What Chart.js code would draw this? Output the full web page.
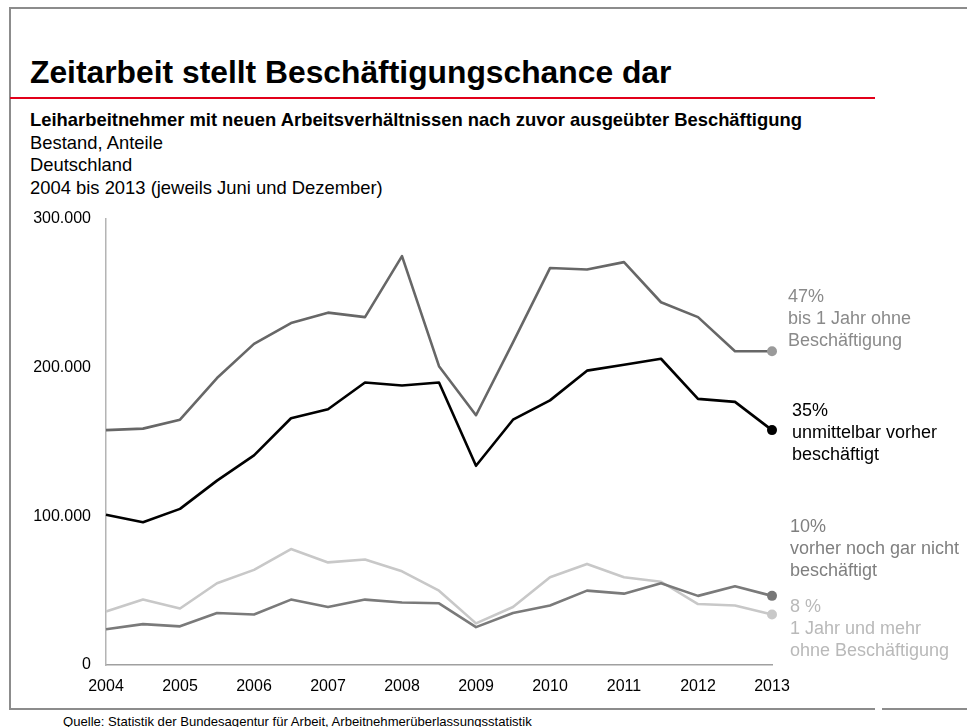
<!DOCTYPE html>
<html>
<head>
<meta charset="utf-8">
<script src="https://cdn.jsdelivr.net/npm/chart.js@4"></script>
<style>
  body { margin: 0; background: #fff; font-family: "Liberation Sans", Arial, sans-serif; }
  #wrap { position: relative; width: 967px; height: 727px; overflow: hidden; }
  .abs { position: absolute; white-space: nowrap; }
  #title { left: 30px; top: 56px; font-size: 31.8px; line-height: 32px; font-weight: bold; color: #000; }
  #sub { left: 30px; top: 109px; font-size: 18.4px; line-height: 22.5px; color: #000; }
  #src { left: 63px; top: 715px; font-size: 13.1px; line-height: 13px; color: #000; }
  canvas { position: absolute; left: 0; top: 0; }
</style>
</head>
<body>
<div id="wrap">
  <div class="abs" style="left:10px;top:7px;width:957px;height:2px;background:#8c8c8c"></div>
  <div class="abs" style="left:9px;top:7px;width:2px;height:703px;background:#8c8c8c"></div>
  <div class="abs" style="left:9px;top:708px;width:866px;height:2px;background:#8c8c8c"></div>
  <div class="abs" style="left:882px;top:708px;width:85px;height:2px;background:#8c8c8c"></div>
  <div class="abs" style="left:10px;top:97px;width:865px;height:2px;background:#e2001a"></div>
  <div class="abs" id="title">Zeitarbeit stellt Beschäftigungschance dar</div>
  <div class="abs" id="sub"><b>Leiharbeitnehmer mit neuen Arbeitsverhältnissen nach zuvor ausgeübter Beschäftigung</b><br>Bestand, Anteile<br>Deutschland<br>2004 bis 2013 (jeweils Juni und Dezember)</div>
  <div class="abs" id="src">Quelle: Statistik der Bundesagentur für Arbeit, Arbeitnehmerüberlassungsstatistik</div>
  <canvas id="chart" width="967" height="727"></canvas>
</div>
<script>
// Stichtage (jeweils Juni und Dezember)
const periods = ['06/2004','12/2004','06/2005','12/2005','06/2006','12/2006','06/2007','12/2007',
  '06/2008','12/2008','06/2009','12/2009','06/2010','12/2010','06/2011','12/2011',
  '06/2012','12/2012','06/2013'];

const bisEinJahr = [158000,159000,165000,193000,216000,230000,237000,234000,275000,201000,
  168000,217000,267000,266000,271000,244000,234000,211000,211000];
const unmittelbar = [101000,96000,105000,124000,141000,166000,172000,190000,188000,190000,
  134000,165000,178000,198000,202000,206000,179000,177000,158000];
const nochNie = [24000,27500,26000,35000,34000,44000,39000,44000,42000,41500,
  25500,35000,40000,50000,48000,55000,46500,53000,46500];
const einJahrUndMehr = [36000,44000,38000,55000,64000,78000,69000,71000,63000,50000,
  28000,39000,59000,68000,59000,56000,41000,40000,34000];

const yTicks = [0, 100000, 200000, 300000];

const seriesNames = ['bis 1 Jahr ohne Beschäftigung', 'unmittelbar vorher beschäftigt',
  'vorher noch gar nicht beschäftigt', '1 Jahr und mehr ohne Beschäftigung'];
const shares = ['47%', '35%', '10%', '8 %'];

function fmt(v) {
  return String(v).replace(/\B(?=(\d{3})+(?!\d))/g, '.');
}

const last = periods.length - 1;
const endDot = (r) => (c) => c.dataIndex === last ? r : 0;

// Beschriftung rechts neben dem letzten Punkt
const endLabels = {
  id: 'endLabels',
  afterDatasetsDraw(chart) {
    const ctx = chart.ctx;
    ctx.save();
    ctx.font = '18px "Liberation Sans", Arial, sans-serif';
    ctx.textBaseline = 'middle';
    ctx.textAlign = 'left';
    chart.data.datasets.forEach((ds, i) => {
      const pt = chart.getDatasetMeta(i).data[last];
      ctx.fillStyle = ds.textColor;
      ds.endText.forEach((t, k) => {
        ctx.fillText(t, pt.x + ds.textDx, pt.y + ds.textDy + k * 22);
      });
    });
    ctx.restore();
  }
};

new Chart(document.getElementById('chart'), {
  type: 'line',
  data: {
    labels: periods,
    datasets: [
      {
        label: seriesNames[0], data: bisEinJahr,
        borderColor: '#676767', backgroundColor: '#9a9a9a', borderWidth: 2.6,
        pointBorderWidth: 0, pointBackgroundColor: '#9a9a9a',
        endText: [shares[0], 'bis 1 Jahr ohne', 'Beschäftigung'], textColor: '#8a8a8a', textDx: 16, textDy: -54
      },
      {
        label: seriesNames[1], data: unmittelbar,
        borderColor: '#000', backgroundColor: '#000', borderWidth: 2.6,
        pointBorderWidth: 0, pointBackgroundColor: '#000',
        endText: [shares[1], 'unmittelbar vorher', 'beschäftigt'], textColor: '#000', textDx: 20, textDy: -19
      },
      {
        label: seriesNames[2], data: nochNie,
        borderColor: '#7a7a7a', backgroundColor: '#777', borderWidth: 2.6,
        pointBorderWidth: 0, pointBackgroundColor: '#777',
        endText: [shares[2], 'vorher noch gar nicht', 'beschäftigt'], textColor: '#7f7f7f', textDx: 18, textDy: -69
      },
      {
        label: seriesNames[3], data: einJahrUndMehr,
        borderColor: '#c8c8c8', backgroundColor: '#c8c8c8', borderWidth: 2.6,
        pointBorderWidth: 0, pointBackgroundColor: '#c8c8c8',
        endText: [shares[3], '1 Jahr und mehr', 'ohne Beschäftigung'], textColor: '#b9b9b9', textDx: 18, textDy: -7
      }
    ]
  },
  options: {
    responsive: false,
    animation: false,
    layout: { padding: { top: 219, right: 195, left: 0, bottom: 0 } },
    elements: {
      line: { tension: 0, borderJoinStyle: 'round' },
      point: { radius: endDot(5), hoverRadius: 5, borderWidth: 0 }
    },
    datasets: { line: { clip: false } },
    plugins: {
      legend: { display: false },
      tooltip: { enabled: false }
    },
    scales: {
      x: {
        offset: false,
        afterFit: s => { s.height = 62; },
        grid: { display: false, drawTicks: false },
        border: { display: true, color: '#a0a0a0', width: 1.5 },
        ticks: {
          autoSkip: false, maxRotation: 0, padding: 12,
          color: '#000', font: { size: 16, family: '"Liberation Sans", Arial, sans-serif' },
          callback: (v, i) => i % 2 === 0 ? periods[i].slice(3) : ''
        }
      },
      y: {
        min: 0, max: 300000,
        afterFit: s => { s.width = 106; },
        afterBuildTicks: s => { s.ticks = yTicks.map(v => ({ value: v })); },
        grid: { display: false, drawTicks: false },
        border: { display: true, color: '#b4b4b4', width: 1.5 },
        ticks: {
          padding: 15, color: '#000',
          font: { size: 16, family: '"Liberation Sans", Arial, sans-serif' },
          callback: v => fmt(v)
        }
      }
    }
  },
  plugins: [endLabels]
});
</script>
</body>
</html>
